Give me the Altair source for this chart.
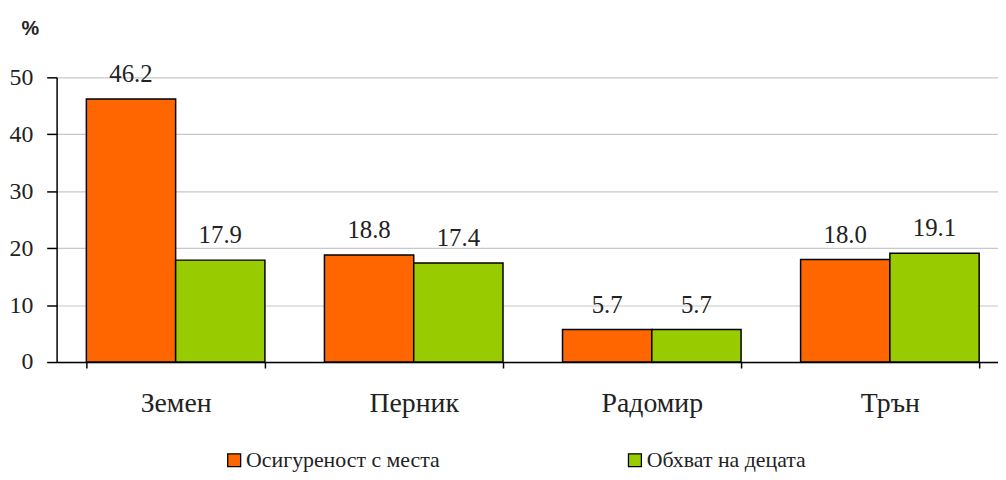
import altair as alt
import pandas as pd

categories = ["Земен", "Перник", "Радомир", "Трън"]
series_names = ["Осигуреност с места", "Обхват на децата"]
provision = [46.2, 18.8, 5.7, 18.0]
coverage = [17.9, 17.4, 5.7, 19.1]
colors = ["#FF6600", "#99CC00"]
y_ticks = [0, 10, 20, 30, 40, 50]

rows = []
for i, c in enumerate(categories):
    rows.append({"town": c, "series": series_names[0], "value": provision[i]})
    rows.append({"town": c, "series": series_names[1], "value": coverage[i]})
df = pd.DataFrame(rows)
df["label"] = df["value"].map(lambda v: f"{v:.1f}")

SERIF = "Liberation Serif"

x = alt.X(
    "town:N",
    sort=categories,
    scale=alt.Scale(paddingInner=0.25, paddingOuter=0.125),
    axis=alt.Axis(
        title=None, labelAngle=0, tickBand="extent", tickSize=6,
        tickColor="black", domainColor="black", domainWidth=1.5, tickWidth=1.5,
        labelFont=SERIF, labelFontSize=28, labelColor="#222",
        labelPadding=22, labelBaseline="top",
    ),
)
xo = alt.XOffset("series:N", sort=series_names,
                 scale=alt.Scale(paddingInner=0, paddingOuter=0))
y = alt.Y(
    "value:Q",
    scale=alt.Scale(domain=[0, 50], nice=False),
    axis=alt.Axis(
        values=y_ticks, title="%", titleAngle=0, titleX=-27, titleY=-49,
        titleFont="Liberation Sans", titleFontSize=20, titleFontWeight="bold",
        titleColor="#222", titleAlign="center", titleBaseline="middle",
        grid=True, gridColor="#c8c8c8", gridWidth=1.2,
        tickSize=10, tickColor="black", tickWidth=1.5,
        domainColor="black", domainWidth=1.5,
        labelFont=SERIF, labelFontSize=24, labelColor="#222", labelPadding=14,
    ),
)
color = alt.Color(
    "series:N", sort=series_names,
    scale=alt.Scale(domain=series_names, range=colors),
    legend=alt.Legend(
        title=None, orient="none", legendX=168, legendY=375,
        direction="horizontal", symbolType="square", symbolSize=170,
        symbolStrokeColor="black", symbolStrokeWidth=1.3, symbolOpacity=1,
        labelFont=SERIF, labelFontSize=22, labelColor="#222",
        labelOffset=1, columnPadding=185, labelLimit=400,
    ),
)

bars = alt.Chart(df).mark_bar(stroke="black", strokeWidth=1.5).encode(
    x=x, xOffset=xo, y=y, color=color
)
labels = alt.Chart(df).mark_text(
    baseline="bottom", dy=-12, font=SERIF, fontSize=25, color="#222"
).encode(x=x, xOffset=xo, y=y, text="label:N")

chart = (
    alt.layer(bars, labels)
    .properties(
        width=960, height=287,
        autosize=alt.AutoSizeParams(type="none"),
        padding={"left": 49, "top": 68, "right": -11, "bottom": 117},
    )
    .configure_view(strokeWidth=0)
)
chart.save("out.html", embed_options={"renderer": "svg", "actions": False})
